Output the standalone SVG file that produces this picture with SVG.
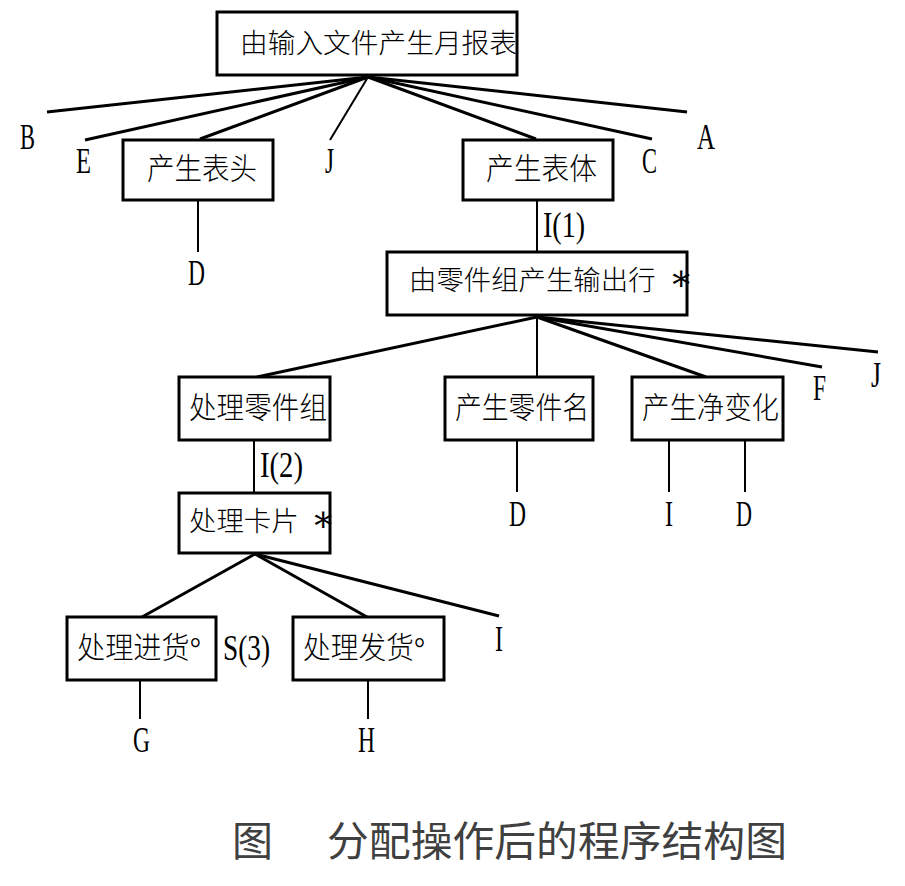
<svg xmlns="http://www.w3.org/2000/svg" width="905" height="886" viewBox="0 0 905 886">
<style>
.box{fill:#fff;stroke:#000;stroke-width:3}
.cn{font-family:"Liberation Serif","Noto Sans CJK SC",serif;font-size:30px;font-weight:300;fill:#000;dominant-baseline:central}
.lt{font-family:"Liberation Serif","DejaVu Serif",serif;font-size:35px;fill:#000}
.ast{font-family:"DejaVu Serif","Liberation Serif",serif;font-size:36px;font-weight:400;fill:#000;dominant-baseline:central}
.cap{font-family:"Noto Sans CJK SC",sans-serif;font-size:41px;fill:#404040;dominant-baseline:central}
.ln{stroke:#000;stroke-width:3;fill:none}
.lv{stroke:#000;stroke-width:2;fill:none}
</style>
<rect width="905" height="886" fill="#fff"/>
<g id="connectors">
  <line class="ln" x1="368" y1="77" x2="47" y2="112"/>
  <line class="ln" x1="368" y1="77" x2="85" y2="140"/>
  <line class="ln" x1="368" y1="77" x2="200" y2="139"/>
  <line class="lv" stroke-width="1.5" x1="368" y1="77" x2="330" y2="140"/>
  <line class="ln" x1="368" y1="77" x2="536" y2="139"/>
  <line class="ln" x1="368" y1="77" x2="652" y2="139"/>
  <line class="ln" x1="368" y1="77" x2="687" y2="112"/>
  <line class="lv" x1="198" y1="200" x2="198" y2="252"/>
  <line class="lv" x1="537" y1="200" x2="537" y2="252"/>
  <line class="ln" x1="537" y1="317" x2="257" y2="377"/>
  <line class="lv" x1="537" y1="317" x2="537" y2="377"/>
  <line class="ln" x1="537" y1="317" x2="706" y2="377"/>
  <line class="ln" x1="537" y1="317" x2="822" y2="367"/>
  <line class="ln" x1="537" y1="317" x2="878" y2="352"/>
  <line class="lv" x1="517" y1="440" x2="517" y2="492"/>
  <line class="lv" x1="669" y1="440" x2="669" y2="492"/>
  <line class="lv" x1="745" y1="440" x2="745" y2="492"/>
  <line class="lv" x1="254" y1="440" x2="254" y2="493"/>
  <line class="ln" stroke-width="2.5" x1="255" y1="554" x2="142" y2="617"/>
  <line class="ln" stroke-width="2.5" x1="255" y1="554" x2="367" y2="617"/>
  <line class="ln" stroke-width="2.5" x1="255" y1="554" x2="499" y2="616"/>
  <line class="lv" x1="140" y1="680" x2="140" y2="719"/>
  <line class="lv" x1="368" y1="680" x2="368" y2="719"/>
</g>
<g id="labels">
  <text class="lt" x="20" y="149" textLength="15" lengthAdjust="spacingAndGlyphs">B</text>
  <text class="lt" x="76" y="173" textLength="15" lengthAdjust="spacingAndGlyphs">E</text>
  <text class="lt" x="325" y="173" textLength="9" lengthAdjust="spacingAndGlyphs">J</text>
  <text class="lt" x="642" y="173" textLength="15" lengthAdjust="spacingAndGlyphs">C</text>
  <text class="lt" x="697" y="149" textLength="18" lengthAdjust="spacingAndGlyphs">A</text>
  <text class="lt" x="188" y="285" textLength="17" lengthAdjust="spacingAndGlyphs">D</text>
  <text class="lt" x="543" y="237" textLength="42" lengthAdjust="spacingAndGlyphs">I(1)</text>
  <text class="lt" x="813" y="400" textLength="13" lengthAdjust="spacingAndGlyphs">F</text>
  <text class="lt" x="871" y="387" textLength="10" lengthAdjust="spacingAndGlyphs">J</text>
  <text class="lt" x="260" y="477" textLength="43" lengthAdjust="spacingAndGlyphs">I(2)</text>
  <text class="lt" x="509" y="526" textLength="17" lengthAdjust="spacingAndGlyphs">D</text>
  <text class="lt" x="665" y="526" textLength="8" lengthAdjust="spacingAndGlyphs">I</text>
  <text class="lt" x="736" y="526" textLength="16" lengthAdjust="spacingAndGlyphs">D</text>
  <text class="lt" x="223" y="660" textLength="47" lengthAdjust="spacingAndGlyphs">S(3)</text>
  <text class="lt" x="495" y="651" textLength="8" lengthAdjust="spacingAndGlyphs">I</text>
  <text class="lt" x="133" y="752" textLength="17" lengthAdjust="spacingAndGlyphs">G</text>
  <text class="lt" x="358" y="752" textLength="17" lengthAdjust="spacingAndGlyphs">H</text>
</g>
<g id="n_root">
  <rect class="box" x="217" y="12" width="300" height="63"/>
  <text class="cn" x="240" y="43" style="font-size:27.7px" textLength="277" lengthAdjust="spacingAndGlyphs">由输入文件产生月报表</text>
</g>
<g id="n_head">
  <rect class="box" x="123" y="140" width="150" height="60"/>
  <text class="cn" x="147" y="168" textLength="110" lengthAdjust="spacingAndGlyphs">产生表头</text>
</g>
<g id="n_body">
  <rect class="box" x="463" y="140" width="150" height="60"/>
  <text class="cn" x="486" y="168" textLength="111" lengthAdjust="spacingAndGlyphs">产生表体</text>
</g>
<g id="n_rows">
  <rect class="box" x="387" y="252" width="300" height="63"/>
  <text class="cn" x="409" y="281" style="font-size:27.4px">由零件组产生输出行</text>
  <text class="ast" x="669" y="277">∗</text>
</g>
<g id="n_group">
  <rect class="box" x="179" y="377" width="151" height="63"/>
  <text class="cn" x="189" y="407" textLength="138" lengthAdjust="spacingAndGlyphs">处理零件组</text>
</g>
<g id="n_name">
  <rect class="box" x="445" y="377" width="148" height="63"/>
  <text class="cn" x="455" y="407" textLength="134" lengthAdjust="spacingAndGlyphs">产生零件名</text>
</g>
<g id="n_net">
  <rect class="box" x="632" y="377" width="151" height="63"/>
  <text class="cn" x="642" y="407" textLength="137" lengthAdjust="spacingAndGlyphs">产生净变化</text>
</g>
<g id="n_card">
  <rect class="box" x="179" y="493" width="151" height="60"/>
  <text class="cn" x="189" y="522" style="font-size:27.4px">处理卡片</text>
  <text class="ast" x="311" y="518">∗</text>
</g>
<g id="n_in">
  <rect class="box" x="67" y="617" width="149" height="63"/>
  <text class="cn" x="77" y="647" textLength="124" lengthAdjust="spacingAndGlyphs">处理进货°</text>
</g>
<g id="n_out">
  <rect class="box" x="293" y="617" width="151" height="63"/>
  <text class="cn" x="303" y="647" textLength="122" lengthAdjust="spacingAndGlyphs">处理发货°</text>
</g>
<g id="caption">
  <text class="cap" x="232" y="838">图 <tspan x="327" textLength="460" lengthAdjust="spacingAndGlyphs">分配操作后的程序结构图</tspan></text>
</g>
</svg>
